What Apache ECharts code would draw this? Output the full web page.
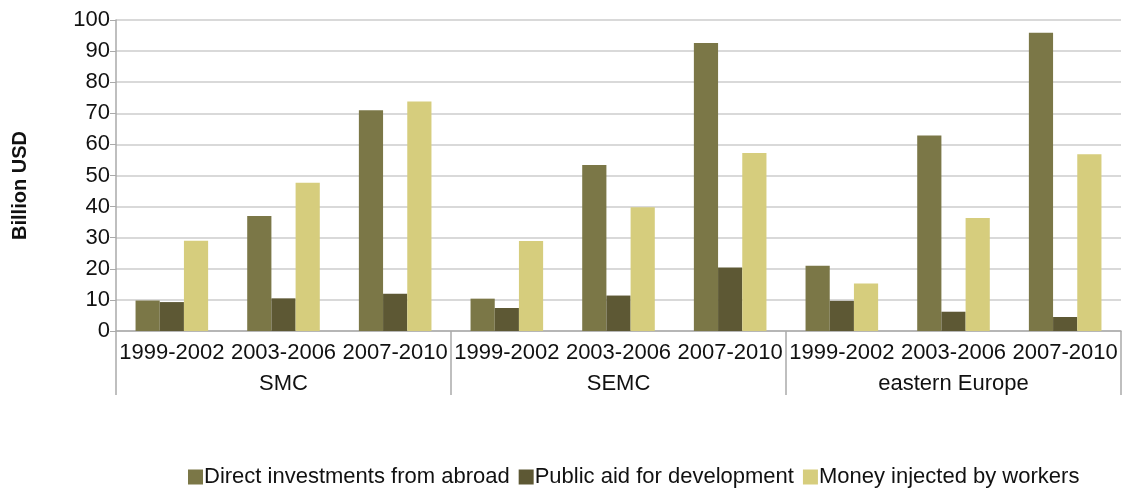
<!DOCTYPE html>
<html>
<head>
<meta charset="utf-8">
<script src="https://cdn.jsdelivr.net/npm/echarts@6/dist/echarts.min.js"></script>
<style>html,body{margin:0;padding:0;background:#fff}#c{width:1122px;height:489px}</style>
</head>
<body>
<div id="c"></div>
<script>
var regions = ['SMC', 'SEMC', 'eastern Europe'];
var periods = ['1999-2002', '2003-2006', '2007-2010'];
var directInvest = [9.8, 37, 71, 10.4, 53.4, 92.6, 21, 62.9, 95.9];
var publicAid = [9.3, 10.5, 12, 7.4, 11.4, 20.4, 9.7, 6.2, 4.5];
var workersMoney = [29, 47.7, 73.8, 28.9, 39.8, 57.2, 15.3, 36.3, 56.8];
var seriesNames = ['Direct investments from abroad', 'Public aid for development', 'Money injected by workers'];
var colors = ['#7b7747', '#5d5834', '#d6cd7d'];

var cats = [];
regions.forEach(function (r) { periods.forEach(function (p) { cats.push(p); }); });

var font = 'Liberation Sans, Arial, sans-serif';
var chart = echarts.init(document.getElementById('c'));
var data = [directInvest, publicAid, workersMoney];
chart.setOption({
  animation: false,
  color: colors,
  textStyle: { fontFamily: font },
  grid: { left: 116, right: 1, top: 20, bottom: 158, containLabel: false, outerBoundsMode: 'none' },
  legend: {
    bottom: -4, left: 183,
    icon: 'rect', itemWidth: 15, itemHeight: 15, itemGap: 9,
    textStyle: { fontSize: 22, color: '#111', fontFamily: font, padding: [0, 0, 0, -4] },
    data: seriesNames
  },
  xAxis: [
    {
      type: 'category', data: cats, position: 'bottom',
      axisLine: { show: true, lineStyle: { color: '#aaaaaa', width: 1.5 } },
      axisTick: { show: false },
      axisLabel: { interval: 0, fontSize: 22, color: '#111', margin: 11, fontFamily: font }
    },
    {
      type: 'category', data: regions, position: 'bottom', gridIndex: 0,
      axisLine: { show: false },
      axisTick: { show: true, length: 64, lineStyle: { color: '#aaaaaa', width: 1.5 } },
      axisLabel: { fontSize: 22, color: '#111', margin: 42, fontFamily: font }
    }
  ],
  yAxis: {
    type: 'value', min: 0, max: 100, interval: 10,
    name: 'Billion USD', nameLocation: 'middle', nameGap: 86, nameRotate: 90,
    nameTextStyle: { fontSize: 20, fontWeight: 'bold', color: '#111', fontFamily: font, padding: [0, 20, 0, 0] },
    axisLine: { show: true, lineStyle: { color: '#aaaaaa', width: 1.5 } },
    axisTick: { show: true, length: 6, lineStyle: { color: '#aaaaaa' } },
    axisLabel: { fontSize: 22, color: '#111', margin: 6, fontFamily: font },
    splitLine: { lineStyle: { color: '#cccccc', width: 1.5 } }
  },
  series: seriesNames.map(function (n, i) {
    return {
      name: n, type: 'bar', xAxisIndex: 0, data: data[i],
      barGap: '0%', barCategoryGap: '35%',
      itemStyle: { color: colors[i] }
    };
  })
});
</script>
</body>
</html>
